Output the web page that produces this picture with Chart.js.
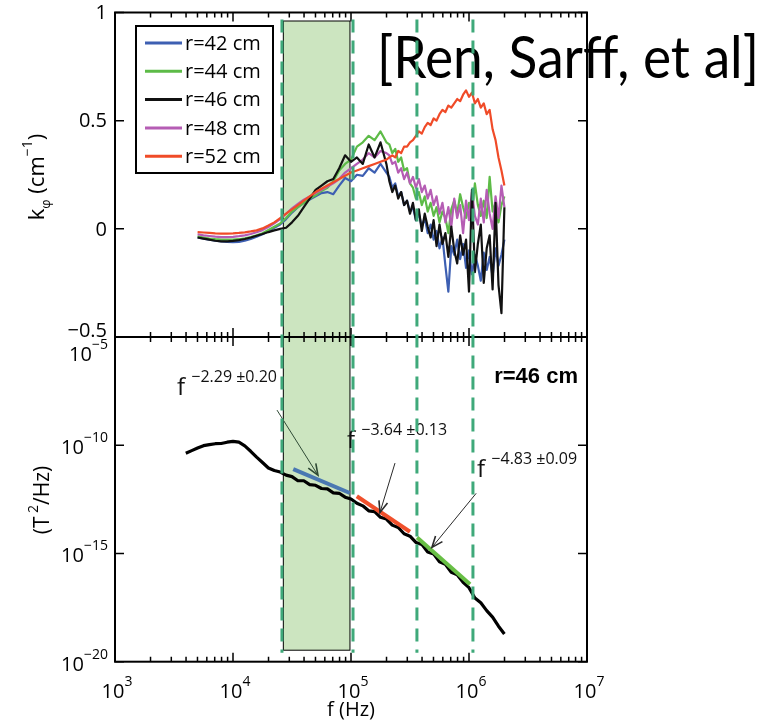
<!DOCTYPE html>
<html>
<head>
<meta charset="utf-8">
<script src="https://cdn.jsdelivr.net/npm/chart.js@4/dist/chart.umd.min.js"></script>
<style>
  html, body { margin: 0; background: #fff; }
  #wrap { position: relative; width: 778px; height: 722px; }
  #wrap canvas { position: absolute; left: 0; top: 0; }
</style>
</head>
<body>
<div id="wrap">
  <canvas id="kphi" width="778" height="722"></canvas>
  <canvas id="spec" width="778" height="722"></canvas>
</div>
<script>
// log10 of frequency (Hz) for the k_phi profiles
const kFreqLog = [3.70, 3.75, 3.80, 3.85, 3.90, 3.95, 4.00, 4.05, 4.10, 4.15, 4.20, 4.25, 4.30, 4.35, 4.40, 4.45, 4.50,
  4.55, 4.60, 4.65, 4.70, 4.75, 4.80, 4.85, 4.90, 4.95, 5.00, 5.05, 5.10, 5.15, 5.20, 5.25, 5.30,
  5.325, 5.35, 5.375, 5.40, 5.425, 5.45, 5.475, 5.50, 5.525, 5.55, 5.575, 5.60, 5.625, 5.65, 5.675, 5.70,
  5.725, 5.75, 5.775, 5.80, 5.825, 5.85, 5.875, 5.90, 5.925, 5.95, 5.975, 6.00, 6.025, 6.05, 6.075, 6.10,
  6.125, 6.15, 6.175, 6.20, 6.225, 6.25, 6.275, 6.30];

// k_phi (cm^-1) at each radius
const kR42 = [-0.040, -0.045, -0.050, -0.055, -0.058, -0.060, -0.062, -0.060, -0.055, -0.047,
  -0.037, -0.025, -0.010, 0.005, 0.020, 0.045, 0.075, 0.100, 0.120, 0.135,
  0.150, 0.165, 0.170, 0.160, 0.200, 0.235, 0.220, 0.250, 0.245, 0.280, 0.260, 0.300, 0.260,
  0.24, 0.19, 0.21, 0.15, 0.17, 0.11, 0.13, 0.08, 0.10, 0.04,
  0.07, 0.01, 0.05, -0.02, 0.02, -0.05, -0.01, -0.09, -0.04, -0.17,
  -0.29, -0.08, -0.12, -0.05, -0.14, -0.07, -0.18, -0.10, -0.21, -0.12,
  -0.17, -0.24, -0.11, -0.19, -0.13, -0.22, -0.09, -0.17, -0.12, -0.05];
const kR44 = [-0.035, -0.040, -0.045, -0.048, -0.050, -0.050, -0.050, -0.048, -0.044, -0.038,
  -0.030, -0.020, -0.005, 0.010, 0.025, 0.050, 0.080, 0.100, 0.120, 0.140,
  0.155, 0.175, 0.190, 0.220, 0.270, 0.300, 0.320, 0.380, 0.400, 0.430, 0.410, 0.450, 0.400,
  0.39, 0.35, 0.37, 0.31, 0.33, 0.27, 0.28, 0.21, 0.19, 0.14,
  0.17, 0.11, 0.15, 0.08, 0.12, 0.06, 0.10, 0.03, 0.08, 0.05,
  -0.02, 0.09, 0.13, 0.07, 0.16, 0.10, 0.05, 0.12, 0.07, 0.21,
  0.11, 0.06, 0.13, 0.05, 0.24, 0.08, 0.12, 0.03, 0.11, 0.15];
const kR46 = [-0.040, -0.045, -0.050, -0.055, -0.058, -0.058, -0.056, -0.052, -0.047, -0.040,
  -0.032, -0.024, -0.015, -0.007, 0.000, 0.005, 0.030, 0.060, 0.100, 0.140,
  0.180, 0.200, 0.220, 0.230, 0.280, 0.340, 0.310, 0.330, 0.300, 0.390, 0.330, 0.400, 0.300,
  0.22, 0.17, 0.20, 0.14, 0.17, 0.11, 0.13, 0.07, 0.12, 0.04,
  0.09, -0.01, 0.07, 0.01, -0.04, 0.04, -0.08, 0.02, -0.07, -0.02,
  -0.13, 0.01, -0.10, -0.16, -0.03, -0.12, -0.05, -0.29, 0.18, -0.20,
  -0.07, 0.02, -0.25, -0.09, -0.03, -0.28, 0.12, -0.26, -0.39, 0.10];
const kR48 = [-0.025, -0.030, -0.033, -0.036, -0.038, -0.038, -0.037, -0.034, -0.030, -0.024,
  -0.016, -0.006, 0.008, 0.025, 0.045, 0.070, 0.095, 0.115, 0.135, 0.150,
  0.165, 0.180, 0.195, 0.210, 0.230, 0.260, 0.280, 0.300, 0.320, 0.350, 0.330, 0.360, 0.350,
  0.34, 0.30, 0.31, 0.26, 0.28, 0.23, 0.26, 0.21, 0.24, 0.19,
  0.23, 0.17, 0.20, 0.14, 0.18, 0.11, 0.15, 0.07, 0.12, 0.03,
  0.10, 0.01, 0.14, 0.05, 0.11, -0.02, 0.13, 0.04, 0.17, 0.06,
  0.02, 0.14, 0.03, 0.18, 0.07, 0.00, 0.15, 0.05, 0.20, 0.10];
const kR52 = [-0.015, -0.017, -0.019, -0.021, -0.022, -0.022, -0.021, -0.019, -0.016, -0.012,
  -0.007, 0.002, 0.015, 0.030, 0.050, 0.070, 0.090, 0.110, 0.130, 0.150,
  0.170, 0.185, 0.200, 0.215, 0.230, 0.245, 0.260, 0.270, 0.280, 0.290, 0.300, 0.310, 0.320,
  0.33, 0.34, 0.33, 0.36, 0.35, 0.38, 0.38, 0.40, 0.41, 0.43,
  0.45, 0.44, 0.47, 0.49, 0.48, 0.51, 0.50, 0.53, 0.55, 0.54,
  0.57, 0.56, 0.58, 0.60, 0.59, 0.62, 0.64, 0.61, 0.63, 0.58,
  0.60, 0.56, 0.58, 0.53, 0.55, 0.46, 0.41, 0.33, 0.27, 0.20];

const radiusLabels = ['r=42 cm', 'r=44 cm', 'r=46 cm', 'r=48 cm', 'r=52 cm'];
const radiusColors = ['#3d5fb2', '#5dbb47', '#111111', '#b55db4', '#f04b28'];
const kSeries = [kR42, kR44, kR46, kR48, kR52];
const stackOrder = [4, 3, 1, 2, 0];

// magnetic fluctuation spectrum at r=46 cm, log10 of T^2/Hz
const psdFreqLog = [3.60, 3.65, 3.70, 3.75, 3.80, 3.85, 3.90, 3.95, 4.00, 4.05,
  4.10, 4.15, 4.20, 4.25, 4.30, 4.35, 4.40, 4.45, 4.50, 4.55,
  4.60, 4.65, 4.70, 4.75, 4.80, 4.85, 4.90, 4.95, 5.00, 5.05,
  5.10, 5.15, 5.20, 5.25, 5.30, 5.35, 5.40, 5.45, 5.50, 5.55,
  5.60, 5.65, 5.70, 5.75, 5.80, 5.85, 5.90, 5.95, 6.00, 6.05,
  6.10, 6.15, 6.20, 6.25, 6.30];
const psdLog = [-10.37, -10.25, -10.13, -10.02, -9.97, -9.93, -9.92, -9.86, -9.82, -9.86,
  -10.03, -10.28, -10.55, -10.80, -11.05, -11.17, -11.24, -11.38, -11.45, -11.64,
  -11.64, -11.82, -11.85, -12.00, -12.02, -12.20, -12.22, -12.40, -12.48, -12.68,
  -12.80, -13.03, -13.07, -13.33, -13.41, -13.69, -13.80, -14.09, -14.20, -14.49,
  -14.58, -14.93, -15.02, -15.38, -15.50, -15.87, -15.98, -16.33, -16.58, -17.06,
  -17.28, -17.64, -17.94, -18.36, -18.72];

// power-law fits f^exponent over three ranges
const fitExponents = [-2.29, -3.64, -4.83];
const fitErrors = [0.20, 0.13, 0.09];
const fitColors = ['#4a78b2', '#f0502c', '#68bf45'];
const fitStartF = [3.24e4, 1.12e5, 3.63e5];
const fitEndF = [9.77e4, 3.16e5, 1.02e6];
const fitStartPsd = [7.8e-12, 4.4e-13, 5.5e-15];
const fitLabelAt = [[3.35e3, 2.0e-8], [9.25e4, 7.2e-11], [1.17e6, 3.3e-12]];
const fitArrowFrom = [[2.36e4, 4.2e-9], [2.36e5, 1.5e-11], [1.15e6, 6.0e-13]];
const fitArrowTo = [[5.25e4, 4.1e-12], [1.76e5, 7.9e-14], [4.85e5, 1.9e-15]];

const bandF = [2.67e4, 9.8e4];
const markerF = [2.6e4, 1.04e5, 3.62e5, 1.08e6];

const xTicks = [1e3, 1e4, 1e5, 1e6, 1e7];
const kTicks = [-0.5, 0, 0.5, 1];
const kTickText = ['\u22120.5', '0', '0.5', '1'];
const psdTicks = [1e-20, 1e-15, 1e-10, 1e-5];

const PANEL = { left: 115, right: 587, top: 12.5, mid: 337, bottom: 661.7 };
const W = 778, H = 722;
const SANS = '"Open Sans", sans-serif';
const font = (px, weight) => (weight || 'normal') + ' ' + px + 'px ' + SANS;

// draw a row of text pieces [text, font, dy] as one string
function drawRuns(ctx, parts, x, y, align) {
  let w = 0;
  parts.forEach(p => { ctx.font = p[1]; w += ctx.measureText(p[0]).width; });
  let cx = align === 'right' ? x - w : align === 'center' ? x - w / 2 : x;
  ctx.textAlign = 'left';
  ctx.textBaseline = 'alphabetic';
  parts.forEach(p => {
    ctx.font = p[1];
    ctx.fillText(p[0], cx, y + (p[2] || 0));
    cx += ctx.measureText(p[0]).width;
  });
}

function powParts(v) {
  const e = Math.round(Math.log10(v));
  return [['10', font(20)], [(e < 0 ? '\u2212' : '') + Math.abs(e), font(14), -12]];
}

function drawFrame(ctx, area, xs, ys, yTicks) {
  ctx.save();
  ctx.strokeStyle = '#000';
  ctx.lineWidth = 2;
  ctx.strokeRect(area.left, area.top, area.width, area.height);
  ctx.lineWidth = 1.5;
  ctx.beginPath();
  for (let i = 0; i < xTicks.length; i++) {
    for (let m = 1; m < 10; m++) {
      if (m > 1 && i === xTicks.length - 1) break;
      const x = xs.getPixelForValue(xTicks[i] * m);
      const len = m === 1 ? 9 : 5;
      ctx.moveTo(x, area.top); ctx.lineTo(x, area.top + len);
      ctx.moveTo(x, area.bottom); ctx.lineTo(x, area.bottom - len);
    }
  }
  yTicks.forEach(v => {
    const y = ys.getPixelForValue(v);
    ctx.moveTo(area.left, y); ctx.lineTo(area.left + 9, y);
    ctx.moveTo(area.right, y); ctx.lineTo(area.right - 9, y);
  });
  ctx.stroke();
  ctx.restore();
}

const kphiDecor = {
  id: 'kphiDecor',
  beforeDatasetsDraw(chart) {
    const ctx = chart.ctx, xs = chart.scales.x;
    const x0 = xs.getPixelForValue(bandF[0]), x1 = xs.getPixelForValue(bandF[1]);
    ctx.save();
    ctx.fillStyle = '#cce5c0';
    ctx.fillRect(x0, PANEL.top + 8.5, x1 - x0, PANEL.bottom - PANEL.top - 20);
    ctx.strokeStyle = '#000';
    ctx.lineWidth = 1;
    ctx.strokeRect(x0, PANEL.top + 8.5, x1 - x0, PANEL.bottom - PANEL.top - 20);
    ctx.restore();
  },
  afterDatasetsDraw(chart) {
    const ctx = chart.ctx, area = chart.chartArea;
    const xs = chart.scales.x, ys = chart.scales.y;
    drawFrame(ctx, area, xs, ys, kTicks);
    ctx.save();
    ctx.fillStyle = '#000';
    ctx.font = font(20);
    ctx.textAlign = 'right';
    ctx.textBaseline = 'middle';
    kTicks.forEach((v, i) => {
      const y = Math.min(ys.getPixelForValue(v), area.bottom - 7);
      ctx.fillText(kTickText[i], 107, y + 1);
    });

    // axis title k_phi (cm^-1)
    ctx.save();
    ctx.translate(44, 177);
    ctx.rotate(-Math.PI / 2);
    drawRuns(ctx, [['k', font(22)], ['\u03c6', font(13), 6], [' (cm', font(22)], ['\u22121', font(14), -12], [')', font(22)]], 0, 0, 'center');
    ctx.restore();

    // legend box
    const lx = 136, ly = 26, lw = 137, lh = 147;
    ctx.fillStyle = '#fff';
    ctx.fillRect(lx, ly, lw, lh);
    ctx.strokeStyle = '#000';
    ctx.lineWidth = 2;
    ctx.strokeRect(lx, ly, lw, lh);
    chart.data.datasets.forEach((ds, i) => {
      const y = ly + 17 + i * 28.3;
      ctx.strokeStyle = ds.borderColor;
      ctx.lineWidth = 3;
      ctx.beginPath();
      ctx.moveTo(lx + 9, y); ctx.lineTo(lx + 46, y);
      ctx.stroke();
      ctx.fillStyle = '#000';
      ctx.font = font(20);
      ctx.textAlign = 'left';
      ctx.textBaseline = 'middle';
      ctx.fillText(ds.label, lx + 49, y + 1);
    });

    // citation
    ctx.save();
    ctx.font = '58px Lato, ' + SANS;
    const cite = '[Ren, Sarff, et al]';
    const sx = 382 / ctx.measureText(cite).width;
    ctx.translate(377, 77.5);
    ctx.scale(sx, 1);
    ctx.fillStyle = '#000';
    ctx.textAlign = 'left';
    ctx.textBaseline = 'alphabetic';
    ctx.fillText(cite, 0, 0);
    ctx.restore();
    ctx.restore();
  }
};

const specDecor = {
  id: 'specDecor',
  afterDatasetsDraw(chart) {
    const ctx = chart.ctx, area = chart.chartArea;
    const xs = chart.scales.x, ys = chart.scales.y;
    drawFrame(ctx, area, xs, ys, psdTicks);
    ctx.save();
    ctx.fillStyle = '#000';
    psdTicks.forEach(v => {
      const y = Math.max(ys.getPixelForValue(v), area.top + 15);
      drawRuns(ctx, powParts(v), 108, y + 9, 'right');
    });
    xTicks.forEach(v => {
      drawRuns(ctx, powParts(v), xs.getPixelForValue(v) + 2, 698, 'center');
    });
    drawRuns(ctx, [['f (Hz)', font(20)]], (area.left + area.right) / 2, 716, 'center');

    ctx.save();
    ctx.translate(49, 500);
    ctx.rotate(-Math.PI / 2);
    drawRuns(ctx, [['(T', font(21)], [' 2', font(14), -11], ['/Hz)', font(21)]], 0, 0, 'center');
    ctx.restore();

    ctx.font = 'bold 22px "Liberation Sans", Arial, sans-serif';
    ctx.textAlign = 'right';
    ctx.textBaseline = 'alphabetic';
    ctx.fillText('r=46 cm', 578, 383);

    // fit labels and arrows
    fitExponents.forEach((e, i) => {
      const px = xs.getPixelForValue(fitLabelAt[i][0]);
      const py = ys.getPixelForValue(fitLabelAt[i][1]);
      ctx.fillStyle = '#111';
      drawRuns(ctx, [['f ', font(24)], ['\u2212' + Math.abs(e).toFixed(2) + ' \u00b1' + fitErrors[i].toFixed(2), font(16), -13]], px, py, 'left');
      const ax = xs.getPixelForValue(fitArrowFrom[i][0]), ay = ys.getPixelForValue(fitArrowFrom[i][1]);
      const bx = xs.getPixelForValue(fitArrowTo[i][0]), by = ys.getPixelForValue(fitArrowTo[i][1]);
      ctx.strokeStyle = i === 0 ? '#2f4a35' : '#2a2a2a';
      ctx.lineWidth = 1;
      ctx.beginPath();
      ctx.moveTo(ax, ay); ctx.lineTo(bx, by);
      ctx.stroke();
      const ang = Math.atan2(by - ay, bx - ax);
      ctx.lineWidth = 1.6;
      ctx.beginPath();
      ctx.moveTo(bx - 12 * Math.cos(ang - 0.38), by - 12 * Math.sin(ang - 0.38));
      ctx.lineTo(bx, by);
      ctx.lineTo(bx - 12 * Math.cos(ang + 0.38), by - 12 * Math.sin(ang + 0.38));
      ctx.stroke();
    });

    // dashed markers through both panels
    ctx.strokeStyle = '#3fa97a';
    ctx.lineWidth = 3;
    ctx.setLineDash([13, 8]);
    markerF.forEach(v => {
      const x = xs.getPixelForValue(v);
      ctx.beginPath();
      ctx.moveTo(x, PANEL.top + 7);
      ctx.lineTo(x, PANEL.bottom - 9);
      ctx.stroke();
    });
    ctx.restore();
  }
};

const common = {
  responsive: false,
  animation: false,
  events: [],
  plugins: { legend: { display: false }, tooltip: { enabled: false } }
};

new Chart(document.getElementById('kphi'), {
  type: 'line',
  data: {
    datasets: radiusLabels.map((label, i) => ({
      label,
      data: kFreqLog.map((lf, j) => ({ x: 10 ** lf, y: kSeries[i][j] })),
      borderColor: radiusColors[i],
      borderWidth: 2.2,
      borderJoinStyle: 'round',
      pointRadius: 0,
      tension: 0,
      order: stackOrder[i]
    }))
  },
  options: {
    ...common,
    layout: { padding: { left: PANEL.left, right: W - PANEL.right, top: PANEL.top, bottom: H - PANEL.mid } },
    scales: {
      x: { type: 'logarithmic', min: 1e3, max: 1e7, display: false },
      y: { type: 'linear', min: -0.5, max: 1, display: false }
    }
  },
  plugins: [kphiDecor]
});

const fitSets = fitExponents.map((e, i) => ({
  label: 'fit ' + i,
  data: [
    { x: fitStartF[i], y: fitStartPsd[i] },
    { x: fitEndF[i], y: fitStartPsd[i] * Math.pow(fitEndF[i] / fitStartF[i], e) }
  ],
  borderColor: fitColors[i],
  borderWidth: 4,
  pointRadius: 0,
  order: 0
}));

new Chart(document.getElementById('spec'), {
  type: 'line',
  data: {
    datasets: [{
      label: 'r=46 cm',
      data: psdFreqLog.map((lf, j) => ({ x: 10 ** lf, y: 10 ** psdLog[j] })),
      borderColor: '#000',
      borderWidth: 3.2,
      borderJoinStyle: 'round',
      pointRadius: 0,
      tension: 0,
      order: 1
    }, ...fitSets]
  },
  options: {
    ...common,
    layout: { padding: { left: PANEL.left, right: W - PANEL.right, top: PANEL.mid, bottom: H - PANEL.bottom } },
    scales: {
      x: { type: 'logarithmic', min: 1e3, max: 1e7, display: false },
      y: { type: 'logarithmic', min: 1e-20, max: 1e-5, display: false }
    }
  },
  plugins: [specDecor]
});
</script>
</body>
</html>
